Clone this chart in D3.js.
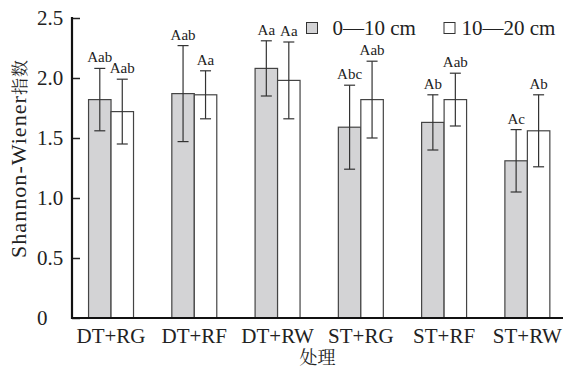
<!DOCTYPE html>
<html><head><meta charset="utf-8">
<script src="https://cdn.jsdelivr.net/npm/d3@7"></script>
<style>body{margin:0;background:#fff}svg{display:block}</style>
</head><body>
<script>
const categories = ["DT+RG","DT+RF","DT+RW","ST+RG","ST+RF","ST+RW"];
const seriesNames = ["0\u201410 cm","10\u201420 cm"];
const mean0_10 = [1.82,1.87,2.08,1.59,1.63,1.31];
const err0_10  = [0.26,0.40,0.23,0.35,0.23,0.26];
const mean10_20 = [1.72,1.86,1.98,1.82,1.82,1.56];
const err10_20  = [0.27,0.20,0.32,0.32,0.22,0.30];
const sig0_10 = ["Aab","Aab","Aa","Abc","Ab","Ac"];
const sig10_20 = ["Aab","Aa","Aa","Aab","Aab","Ab"];
const yTicks = [0,0.5,1.0,1.5,2.0,2.5];
const yTickLabels = ["0","0.5","1.0","1.5","2.0","2.5"];
const xTitle = "处理";
const yTitleLatin = "Shannon-Wiener";
const yTitleCJK = "指数";

const W=576,H=369;
const svg=d3.select("body").append("svg").attr("width",W).attr("height",H);
const serif='"Liberation Serif", "Noto Serif CJK SC", serif';
const cjk='"Noto Serif CJK SC", "Liberation Serif", serif';
const x0=d3.scaleBand().domain(categories).range([69.4,569]).paddingInner(0.46).paddingOuter(0.23);
const x1=d3.scaleBand().domain([0,1]).range([0,x0.bandwidth()]);
const y=d3.scaleLinear().domain([0,2.5]).range([318,18]);
const fills=["#d3d3d5","#ffffff"];
const series=[
 {m:mean0_10,e:err0_10,s:sig0_10},
 {m:mean10_20,e:err10_20,s:sig10_20}];

const g=svg.append("g");
series.forEach((sr,si)=>{
  categories.forEach((c,i)=>{
    const bx=x0(c)+x1(si), bw=x1.bandwidth();
    g.append("rect").attr("x",bx).attr("y",y(sr.m[i])).attr("width",bw)
     .attr("height",y(0)-y(sr.m[i])).attr("fill",fills[si]).attr("stroke","#444").attr("stroke-width",1.2);
  });
});
series.forEach((sr,si)=>{
  categories.forEach((c,i)=>{
    const cx=x0(c)+x1(si)+x1.bandwidth()/2;
    const top=y(sr.m[i]+sr.e[i]), bot=y(sr.m[i]-sr.e[i]);
    const eg=g.append("g").attr("stroke","#333").attr("stroke-width",1.2);
    eg.append("line").attr("x1",cx).attr("x2",cx).attr("y1",top).attr("y2",bot);
    eg.append("line").attr("x1",cx-5.5).attr("x2",cx+5.5).attr("y1",top).attr("y2",top);
    eg.append("line").attr("x1",cx-5.5).attr("x2",cx+5.5).attr("y1",bot).attr("y2",bot);
    g.append("text").attr("x",cx).attr("y",top-6).attr("text-anchor","middle")
     .style("font-family",serif).style("font-size","15px").attr("fill","#222").text(sr.s[i]);
  });
});

// y axis
const ya=svg.append("g").attr("transform","translate(72,0)")
 .call(d3.axisRight(y).tickValues(yTicks).tickSize(8).tickFormat((d,i)=>yTickLabels[i]));
ya.attr("font-family",null);
ya.select(".domain").remove();
ya.selectAll(".tick line").attr("stroke","#222").attr("stroke-width",1.5);
ya.selectAll(".tick text").attr("x",-35).attr("text-anchor","start").attr("dy","0.32em")
 .style("font-family",serif).style("font-size","21px").attr("fill","#222");
svg.append("line").attr("x1",72).attr("x2",72).attr("y1",17).attr("y2",319).attr("stroke","#111").attr("stroke-width",2.2);
svg.append("line").attr("x1",71).attr("x2",563).attr("y1",318).attr("y2",318).attr("stroke","#111").attr("stroke-width",2.2);

// x labels
categories.forEach(c=>{
  svg.append("text").attr("x",x0(c)+x0.bandwidth()/2).attr("y",343).attr("text-anchor","middle")
   .style("font-family",serif).style("font-size","21px").attr("fill","#222").text(c);
});
svg.append("text").attr("x",317.5).attr("y",364).attr("text-anchor","middle")
 .style("font-family",cjk).style("font-size","18px").attr("fill","#222").text(xTitle);
const yt=svg.append("text").attr("transform","translate(26,159) rotate(-90)").attr("text-anchor","middle")
 .attr("textLength",198).attr("lengthAdjust","spacing")
 .style("font-family",serif).style("font-size","22px").attr("fill","#222");
yt.append("tspan").text(yTitleLatin);
yt.append("tspan").style("font-family",cjk).style("font-size","17px").text(yTitleCJK);

// legend
const lg=[{x:306.5,tx:332.5},{x:444,tx:461.5}];
seriesNames.forEach((n,i)=>{
  svg.append("rect").attr("x",lg[i].x).attr("y",22.5).attr("width",11).attr("height",11)
   .attr("fill",fills[i]).attr("stroke","#333").attr("stroke-width",1);
  svg.append("text").attr("x",lg[i].tx).attr("y",35).style("font-family",serif).style("font-size","21px")
   .attr("fill","#222").text(n);
});
</script>
</body></html>
